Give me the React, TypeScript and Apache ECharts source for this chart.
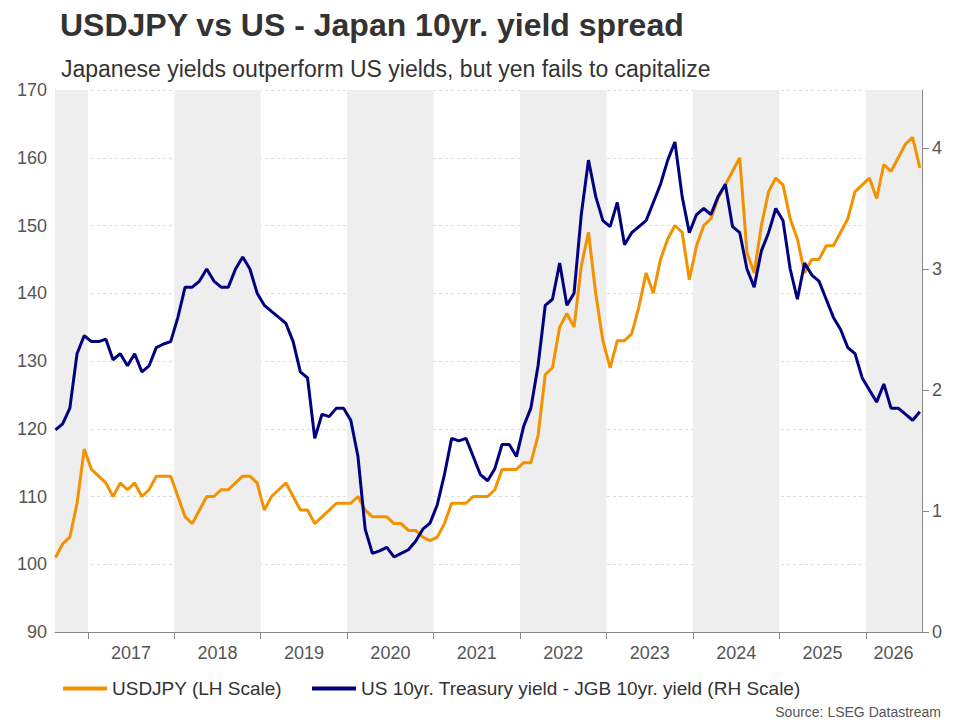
import React, { useEffect, useRef } from "react";
import * as echarts from "echarts";

// Monthly observations from Aug 2016 to Aug 2026
const startYear = 2016;
const startMonth = 8;
const usdjpy = [
  101, 103, 104, 109, 117,
  114, 113, 112, 110, 112, 111, 112, 110, 111, 113, 113, 113,
  110, 107, 106, 108, 110, 110, 111, 111, 112, 113, 113, 112,
  108, 110, 111, 112, 110, 108, 108, 106, 107, 108, 109, 109,
  109, 110, 108, 107, 107, 107, 106, 106, 105, 105, 104, 103.5,
  104, 106, 109, 109, 109, 110, 110, 110, 111, 114, 114, 114,
  115, 115, 119, 128, 129, 135, 137, 135, 144, 149, 140, 133,
  129, 133, 133, 134, 138, 143, 140, 145, 148, 150, 149, 142,
  147, 150, 151, 154, 156, 158, 160, 146, 143, 150, 155, 157,
  156, 151, 148, 143, 145, 145, 147, 147, 149, 151, 155, 156,
  157, 154, 159, 158, 160, 162, 163, 158.5,
];
const spread = [
  1.67, 1.72, 1.85, 2.3, 2.45,
  2.4, 2.4, 2.42, 2.25, 2.3, 2.2, 2.3, 2.15, 2.2, 2.35, 2.38, 2.4,
  2.6, 2.85, 2.85, 2.9, 3.0, 2.9, 2.85, 2.85, 3.0, 3.1, 3.0, 2.8,
  2.7, 2.65, 2.6, 2.55, 2.4, 2.15, 2.1, 1.6, 1.8, 1.78, 1.85, 1.85,
  1.75, 1.45, 0.85, 0.65, 0.67, 0.7, 0.62, 0.65, 0.68, 0.75, 0.85, 0.9,
  1.05, 1.3, 1.6, 1.58, 1.6, 1.45, 1.3, 1.25, 1.35, 1.55, 1.55, 1.45,
  1.7, 1.85, 2.2, 2.7, 2.75, 3.05, 2.7, 2.8, 3.45, 3.9, 3.6, 3.4,
  3.35, 3.55, 3.2, 3.3, 3.35, 3.4, 3.55, 3.7, 3.9, 4.05, 3.6, 3.3,
  3.45, 3.5, 3.45, 3.6, 3.7, 3.35, 3.3, 3.0, 2.85, 3.15, 3.3, 3.5,
  3.4, 3.0, 2.75, 3.05, 2.95, 2.9, 2.75, 2.6, 2.5, 2.35, 2.3, 2.1,
  2.0, 1.9, 2.05, 1.85, 1.85, 1.8, 1.75, 1.82,
];
const yearTicks = [2017, 2018, 2019, 2020, 2021, 2022, 2023, 2024, 2025, 2026];
const yearLabelPos = [2017.5, 2018.5, 2019.5, 2020.5, 2021.5, 2022.5, 2023.5, 2024.5, 2025.5, 2026.32];
const shadedYears = [[2016.5, 2017], [2018, 2019], [2020, 2021], [2022, 2023], [2024, 2025], [2026, 2027]];

const toX = (i: number) => startYear + (startMonth - 1 + i) / 12 + 1 / 24;

export default function App() {
  const ref = useRef<HTMLDivElement>(null);
  useEffect(() => {
    const chart = echarts.init(ref.current!, null, { renderer: "svg" });
    const gray = "#555";
    const ff = "Arial, Liberation Sans";
    chart.setOption({
      animation: false,
      title: [
        { text: "USDJPY vs US - Japan 10yr. yield spread", left: 55, top: 4, textStyle: { fontFamily: ff, fontSize: 32, fontWeight: "bold", color: "#333" } },
        { text: "Japanese yields outperform US yields, but yen fails to capitalize", left: 56, top: 52, textStyle: { fontFamily: ff, fontSize: 23, fontWeight: "normal", color: "#333" } },
        { text: "Source: LSEG Datastream", right: 14, top: 700, textStyle: { fontFamily: ff, fontSize: 14, fontWeight: "normal", color: gray } },
      ],
      legend: {
        left: 58, top: 674, itemWidth: 44, itemHeight: 4, itemGap: 30, icon: "rect",
        textStyle: { fontFamily: ff, fontSize: 19, color: "#333" },
        data: ["USDJPY (LH Scale)", "US 10yr. Treasury yield - JGB 10yr. yield (RH Scale)"],
      },
      grid: { left: 55, right: 38, top: 90, bottom: 88 },
      xAxis: {
        type: "value", min: 2016.62, max: 2026.65,
        axisLine: { lineStyle: { color: "#888" } },
        axisTick: { show: true, customValues: yearTicks, length: 7, lineStyle: { color: "#888" } },
        axisLabel: { customValues: yearLabelPos, formatter: (v: number) => String(Math.floor(v)), color: gray, fontFamily: ff, fontSize: 18, margin: 12 },
        splitLine: { show: false },
      },
      yAxis: [
        {
          type: "value", min: 90, max: 170, interval: 10, position: "left",
          axisLine: { show: true, lineStyle: { color: "#888" } },
          axisTick: { show: false },
          axisLabel: { color: gray, fontFamily: ff, fontSize: 18, margin: 8 },
          splitLine: { show: true, lineStyle: { color: "#dcdcdc", type: [3, 3] } },
        },
        {
          type: "value", min: 0, max: 80 / 17.86, interval: 1, position: "right",
          axisLine: { show: true, lineStyle: { color: "#888" } },
          axisTick: { show: true, inside: false, length: 7, lineStyle: { color: "#888" } },
          axisLabel: { color: gray, fontFamily: ff, fontSize: 18, margin: 10, showMaxLabel: false },
          splitLine: { show: false },
        },
      ],
      series: [
        {
          name: "USDJPY (LH Scale)", type: "line", yAxisIndex: 0, symbol: "none",
          lineStyle: { color: "#F39200", width: 3 }, itemStyle: { color: "#F39200" },
          data: usdjpy.map((v, i) => [toX(i), v]),
          z: 3,
          markArea: {
            silent: true, itemStyle: { color: "#eeeeee" },
            data: shadedYears.map(([a, b]) => [{ xAxis: Math.max(a, 2016.62) }, { xAxis: Math.min(b, 2026.65) }]),
          },
        },
        {
          name: "US 10yr. Treasury yield - JGB 10yr. yield (RH Scale)", type: "line", yAxisIndex: 1, symbol: "none",
          lineStyle: { color: "#000080", width: 3 }, itemStyle: { color: "#000080" },
          data: spread.map((v, i) => [toX(i), v]),
          z: 4,
        },
      ],
    });
    return () => chart.dispose();
  }, []);
  return <div ref={ref} style={{ width: 960, height: 720, position: "absolute", left: 0, top: 0, background: "#fff" }} />;
}
